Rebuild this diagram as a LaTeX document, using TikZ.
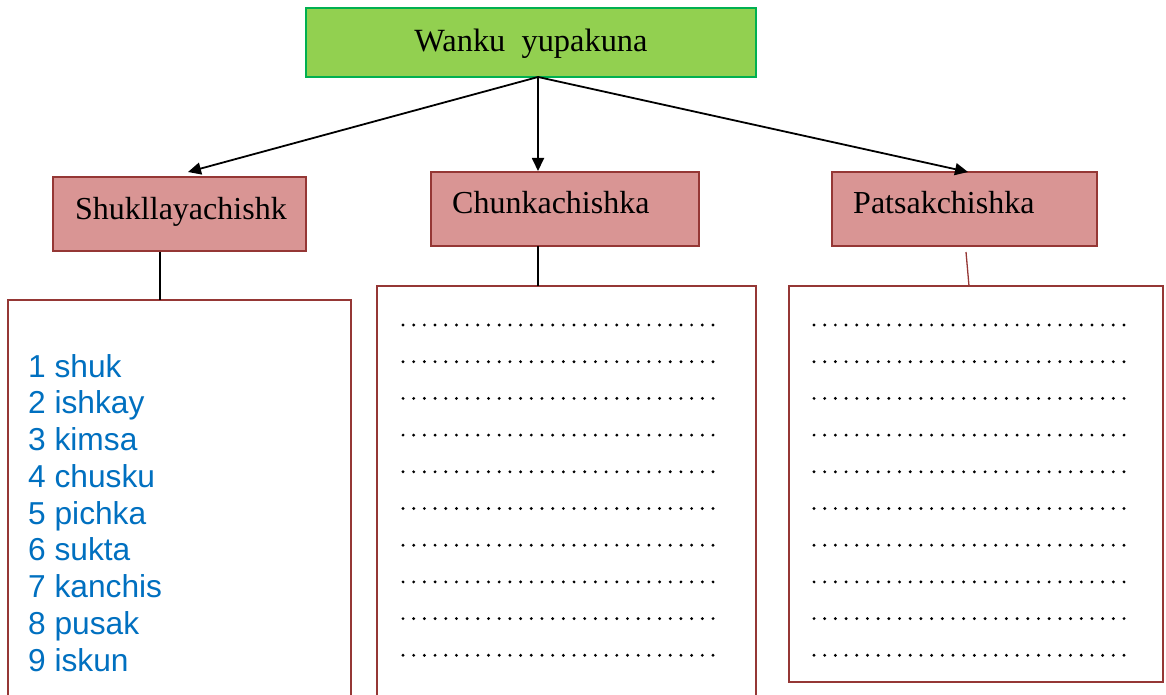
\documentclass[tikz,border=0pt]{standalone}
\usepackage{fontspec}
\setmainfont{Liberation Serif}
\newfontfamily\listfont{Liberation Sans}
\usetikzlibrary{arrows.meta}
\definecolor{topfill}{HTML}{92D050}
\definecolor{topline}{HTML}{00B050}
\definecolor{catfill}{HTML}{D99594}
\definecolor{catline}{HTML}{953735}
\definecolor{listblue}{HTML}{0070C0}
\tikzset{
  topbox/.style={draw=topline, line width=1.2pt, fill=topfill},
  catbox/.style={draw=catline, line width=1.2pt, fill=catfill},
  sheet/.style={draw=catline, line width=1.2pt, fill=white},
  label/.style={font=\fontsize{32}{32}\selectfont, anchor=base west, inner sep=0pt},
  branch/.style={line width=1.8pt, -{Triangle[length=13pt, width=12pt]}},
  stem/.style={line width=1.3pt},
  blank/.style={line width=3.2pt, line cap=round, dash pattern=on 0pt off 10.69pt},
}
\begin{document}
\begin{tikzpicture}[x=1pt, y=-1pt]
\useasboundingbox (0,0) rectangle (1166,695);

% title box
\draw[topbox] (306,8) rectangle (756,77);
\node[font=\fontsize{32.4}{32}\selectfont, anchor=base, inner sep=0pt] (title) at (531,52) {Wanku\ \ yupakuna};
\coordinate (root) at (538,77);

% category boxes
\draw[catbox] (53,177) rectangle (306,251);
\node[label] (c1) at (75,219) {Shukllayachishk};
\draw[catbox] (431,172) rectangle (699,246);
\node[label] (c2) at (452,213) {Chunkachishka};
\draw[catbox] (832,172) rectangle (1097,246);
\node[label] (c3) at (853,213) {Patsakchishka};

\coordinate (t1) at (188,172);
\coordinate (t2) at (538,171);
\coordinate (t3) at (968,172);
\draw[branch] (root) -- (t1);
\draw[branch] (root) -- (t2);
\draw[branch] (root) -- (t3);

% answer sheets
\draw[sheet] (8,300) rectangle (351,697);
\draw[sheet] (377,286) rectangle (756,697);
\draw[sheet] (789,286) rectangle (1163,682);

% stems from categories to sheets
\coordinate (s1a) at (160,252); \coordinate (s1b) at (160,300);
\coordinate (s2a) at (538,246); \coordinate (s2b) at (538,286);
\coordinate (s3a) at (966,252); \coordinate (s3b) at (969,286);
\draw[stem, black] (s1a) -- (s1b);
\draw[stem, black] (s2a) -- (s2b);
\draw[stem, catline] (s3a) -- (s3b);

% number list
\foreach \t [count=\i from 0] in {1 shuk,2 ishkay,3 kimsa,4 chusku,5 pichka,6 sukta,7 kanchis,8 pusak,9 iskun}
  \node[label, font=\listfont\fontsize{31.7}{31}\selectfont, text=listblue] (n\i) at (28,377+36.75*\i) {\t};

% blank lines to fill in
\foreach \i in {0,...,9} {
  \draw[blank] (403,325+36.7*\i) -- (714,325+36.7*\i);
  \draw[blank] (814,325+36.7*\i) -- (1125,325+36.7*\i);
}
\end{tikzpicture}
\end{document}
